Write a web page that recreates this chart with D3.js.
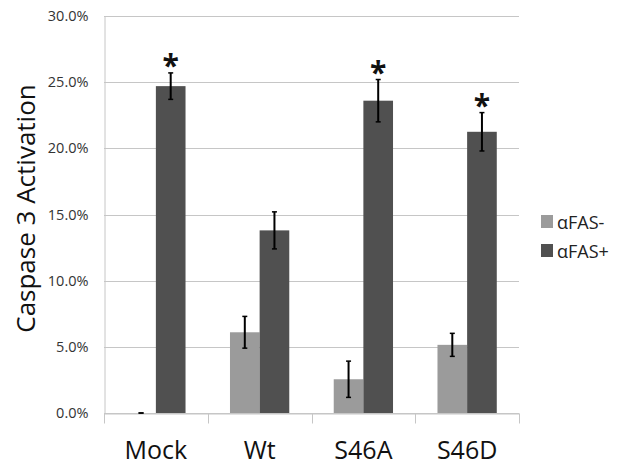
<!DOCTYPE html>
<html><head><meta charset="utf-8">
<script src="https://cdn.jsdelivr.net/npm/d3@7"></script>
<style>body{margin:0;background:#fff;} svg{display:block;font-family:"Open Sans",sans-serif;}</style>
</head><body><div id="chart"></div>
<script>
const categories = ["Mock", "Wt", "S46A", "S46D"];
const seriesNames = ["αFAS-", "αFAS+"];
const fasMinus = [0.0, 6.1, 2.55, 5.15];
const fasMinusErr = [0.0, 1.2, 1.37, 0.87];
const fasPlus = [24.7, 13.8, 23.6, 21.25];
const fasPlusErr = [1.0, 1.4, 1.6, 1.45];
const significant = [true, false, true, true];
const yTicks = [0, 5, 10, 15, 20, 25, 30];
const colors = ["#9b9b9b", "#505050"];

const W = 629, H = 466;
const m = {left: 104, right: 110, top: 16, bottom: 53};
const svg = d3.select("#chart").append("svg").attr("width", W).attr("height", H);
const x = d3.scaleBand().domain(categories).range([m.left, W - m.right]).paddingInner(0).paddingOuter(0);
const x1 = d3.scaleBand().domain([0, 1]).range([0, x.bandwidth()]).paddingInner(0).paddingOuter(0.75);
const y = d3.scaleLinear().domain([0, 30]).range([H - m.bottom, m.top]);

// gridlines
svg.append("g").selectAll("line").data(yTicks).join("line")
  .attr("x1", m.left).attr("x2", W - m.right)
  .attr("y1", d => Math.round(y(d)) + 0.5).attr("y2", d => Math.round(y(d)) + 0.5)
  .attr("stroke", "#c6c6c6").attr("stroke-width", 1);

// y axis
const yAxis = svg.append("g").attr("transform", `translate(${m.left + 0.5},0)`)
  .call(d3.axisLeft(y).tickValues(yTicks).tickSize(0).tickPadding(16).tickFormat(d => d.toFixed(1) + "%"));
yAxis.select(".domain").attr("stroke", "#c6c6c6");
yAxis.selectAll("text").attr("font-size", 14.5).attr("fill", "#333").attr("font-family", "Open Sans");

// x axis
const xAxis = svg.append("g").attr("transform", `translate(0,${Math.round(y(0)) + 0.5})`)
  .call(d3.axisBottom(x).tickSize(0).tickPadding(0));
xAxis.select(".domain").attr("stroke", "#c6c6c6");
xAxis.selectAll(".tick text").attr("dy", null).attr("y", 45).attr("font-size", 25)
  .attr("fill", "#111").attr("font-family", "Open Sans");
const bounds = categories.map(c => x(c)).concat([x(categories[categories.length - 1]) + x.bandwidth()]);
xAxis.append("g").selectAll("line").data(bounds).join("line")
  .attr("x1", d => Math.round(d) + 0.5).attr("x2", d => Math.round(d) + 0.5)
  .attr("y1", 0).attr("y2", 10).attr("stroke", "#c6c6c6");

// bars
const data = categories.map((c, i) => ({c, vals: [
  {s: 0, v: fasMinus[i], e: fasMinusErr[i]},
  {s: 1, v: fasPlus[i], e: fasPlusErr[i], sig: significant[i]}]}));
const groups = svg.append("g").selectAll("g").data(data).join("g")
  .attr("transform", d => `translate(${x(d.c)},0)`);
groups.selectAll("rect").data(d => d.vals).join("rect")
  .attr("x", d => x1(d.s)).attr("width", x1.bandwidth())
  .attr("y", d => y(d.v)).attr("height", d => y(0) - y(d.v))
  .attr("fill", d => colors[d.s]);

// error bars
const eb = groups.selectAll("g.eb").data(d => d.vals).join("g").attr("class", "eb");
const cx = d => x1(d.s) + x1.bandwidth() / 2;
eb.append("line").attr("x1", cx).attr("x2", cx)
  .attr("y1", d => y(d.v + d.e)).attr("y2", d => y(d.v - d.e))
  .attr("stroke", "#000").attr("stroke-width", 2);
eb.append("line").attr("x1", d => cx(d) - 2.5).attr("x2", d => cx(d) + 2.5)
  .attr("y1", d => y(d.v + d.e)).attr("y2", d => y(d.v + d.e))
  .attr("stroke", "#000").attr("stroke-width", 1.5);
eb.append("line").attr("x1", d => cx(d) - 2.5).attr("x2", d => cx(d) + 2.5)
  .attr("y1", d => y(d.v - d.e)).attr("y2", d => y(d.v - d.e))
  .attr("stroke", "#000").attr("stroke-width", 1.5);

// asterisks
groups.selectAll("text.sig").data(d => d.vals.filter(v => v.sig)).join("text")
  .attr("class", "sig").attr("x", cx).attr("y", d => y(d.v + d.e) + 3)
  .attr("text-anchor", "middle").attr("font-size", 30).attr("font-weight", "bold").attr("fill", "#111")
  .attr("font-family", "Open Sans").text("*");

// y title
svg.append("text").attr("transform", `translate(35,${(y(0) + y(30)) / 2 - 6}) rotate(-90)`)
  .attr("text-anchor", "middle").attr("font-size", 26).attr("fill", "#111")
  .text("Caspase 3 Activation");

// legend
const lg = svg.append("g").attr("transform", "translate(541,215)");
const li = lg.selectAll("g").data(seriesNames).join("g").attr("transform", (d, i) => `translate(0,${i * 29})`);
li.append("rect").attr("width", 12).attr("height", 13).attr("fill", (d, i) => colors[i]);
li.append("text").attr("x", 16).attr("y", 13.5).attr("font-size", 18).attr("fill", "#222").text(d => d);
</script></body></html>
